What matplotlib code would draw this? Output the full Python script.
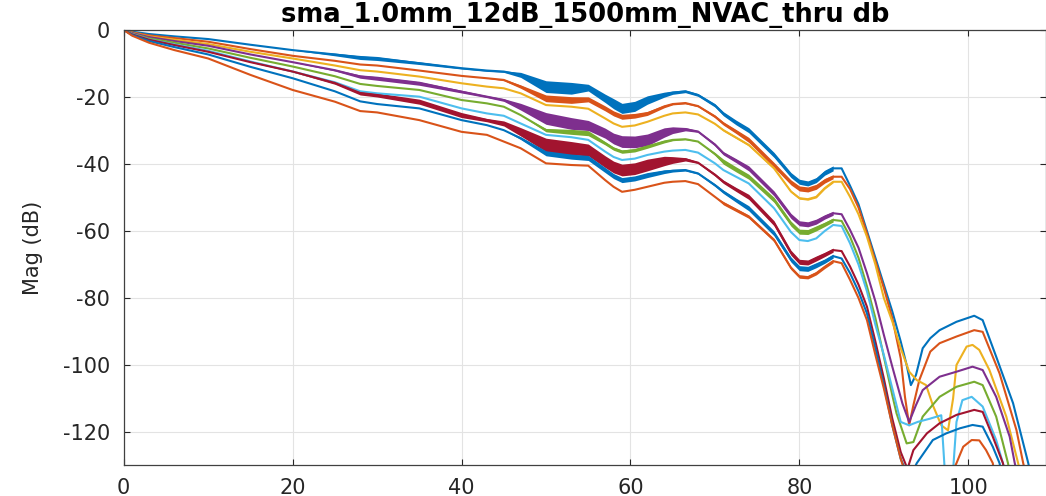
import numpy as np
import matplotlib
matplotlib.use("Agg")
import matplotlib.pyplot as plt

plt.rcParams.update({
    "font.family": "DejaVu Sans",
    "axes.unicode_minus": False,
})

# shared x nodes (GHz) up to the resonance peak near 84
x_common = [0, 1, 3, 6, 10, 15, 20, 25, 28, 30, 35, 40, 43, 45, 47, 50, 53, 55, 57, 58,
            59, 60.5, 62, 64, 65, 66.5, 68, 70, 71, 72.5, 74, 77, 79, 80, 81, 82, 83, 84]

blue1 = [0, -0.5, -1.2, -1.9, -2.7, -4.4, -6.0, -7.3, -8.2, -8.5, -9.9, -11.4, -12.1, -12.4,
         -13.4, -16.9, -17.4, -17.2, -20.4, -22.0, -23.4, -22.8, -20.9, -19.3, -18.7, -18.3,
         -19.4, -22.5, -25.0, -27.6, -29.9, -37.3, -43.3, -45.3, -45.8, -44.8, -42.6, -41.3]
orange1 = [0, -0.7, -1.6, -2.4, -3.5, -5.7, -7.7, -9.2, -10.3, -10.6, -12.1, -13.7, -14.4, -14.9,
           -16.9, -20.4, -20.9, -20.7, -23.4, -24.9, -25.9, -25.6, -24.9, -22.8, -22.1, -21.8,
           -22.7, -25.8, -27.9, -30.3, -32.8, -40.3, -45.5, -47.3, -47.6, -46.8, -45.0, -43.8]
yellow = [0, -0.8, -1.9, -2.9, -4.2, -6.5, -8.5, -10.6, -12.0, -12.4, -13.9, -15.9, -16.9, -17.4,
          -18.9, -22.4, -22.9, -23.5, -26.4, -27.9, -28.9, -28.5, -27.4, -25.6, -24.9, -24.6,
          -25.2, -28.0, -29.9, -32.1, -34.3, -41.3, -48.2, -50.2, -50.5, -49.8, -47.2, -45.3]
purple = [0, -0.9, -2.1, -3.3, -4.7, -7.3, -9.6, -12.0, -13.9, -14.4, -15.9, -18.4, -19.9, -20.9,
          -22.9, -26.4, -27.9, -28.5, -30.8, -32.4, -33.3, -33.4, -32.8, -30.6, -29.9, -29.6,
          -30.3, -34.2, -36.8, -39.0, -41.3, -48.8, -55.5, -57.7, -58.0, -57.2, -55.8, -54.7]
green = [0, -1.1, -2.5, -3.8, -5.5, -8.3, -10.9, -13.8, -16.1, -16.7, -17.9, -20.9, -21.9, -22.9,
         -25.4, -29.9, -30.4, -30.8, -33.8, -35.4, -36.3, -35.9, -34.8, -33.3, -32.8, -32.6,
         -33.3, -37.0, -39.3, -41.6, -43.8, -50.7, -57.8, -60.2, -60.3, -59.2, -58.0, -56.7]
cyan = [0, -1.2, -2.8, -4.3, -6.2, -9.4, -12.4, -15.6, -18.3, -18.9, -19.9, -23.4, -24.9, -25.6,
        -27.9, -31.3, -32.0, -32.8, -36.3, -37.9, -38.8, -38.4, -37.3, -36.3, -36.0, -35.8,
        -36.6, -39.8, -41.8, -43.8, -45.8, -53.2, -60.3, -62.7, -63.0, -62.2, -60.0, -58.2]
darkred = [0, -1.3, -2.9, -4.5, -6.5, -9.6, -12.4, -15.8, -18.8, -19.4, -21.4, -25.4, -26.9, -27.9,
           -30.4, -34.3, -35.3, -35.8, -39.3, -40.9, -41.8, -41.4, -40.3, -39.1, -38.8, -38.6,
           -39.6, -43.2, -45.3, -47.6, -49.8, -57.7, -66.5, -69.2, -69.4, -68.2, -67.0, -65.7]
blue2 = [0, -1.5, -3.3, -5.1, -7.3, -11.0, -14.4, -18.3, -21.3, -22.1, -23.4, -26.9, -28.4, -29.9,
         -32.3, -36.8, -37.8, -38.2, -41.8, -43.6, -44.8, -44.3, -43.3, -42.3, -42.0, -41.8,
         -42.8, -46.3, -48.3, -50.8, -53.2, -60.7, -68.5, -71.1, -71.3, -70.2, -69.0, -67.5]
orange2 = [0, -1.7, -3.8, -6.0, -8.5, -13.4, -17.9, -21.4, -24.2, -24.6, -26.9, -30.4, -31.3, -33.3,
           -35.3, -39.8, -40.3, -40.5, -44.8, -46.8, -48.3, -47.7, -46.8, -45.6, -45.3, -45.1,
           -46.0, -49.8, -51.7, -53.7, -55.7, -62.7, -71.0, -73.6, -73.8, -72.6, -70.7, -69.0]

# thickness (dB) of the fast ripple band around each trace, on x_common
blue1_band = [0, 0, 0, 0, 0, 0, 0, 0.8, 1.2, 1.2, 0.8, 0.5, 0.5, 0.5, 1.5, 3.5, 3.5, 2, 2.5,
              3, 3, 3, 2.5, 1.5, 1, 0.8, 0.8, 1, 1.2, 1.4, 1.5, 1.5, 1.5, 1.5, 1.5, 1.5, 1.5, 1.5]
orange1_band = [0, 0, 0, 0, 0, 0, 0, 0, 0, 0, 0, 0, 0, 0.5, 1, 2, 2, 1.5, 1.5,
                1.5, 1.5, 1.4, 1.2, 0.8, 0.5, 0.5, 0.5, 0.8, 1, 1.2, 1.5, 1.5, 1.5, 1.5, 1.5, 1.5,
                1.4, 1.2]
yellow_band = [0] * 27 + [0.3, 0.6, 0.6, 0.6, 0.6, 0.6, 0.6, 0.6, 0.6, 0.6, 0.6]
purple_band = [0, 0, 0, 0, 0, 0, 0, 0.5, 1, 1.2, 1.2, 0.8, 0.6, 0.8, 2, 3.5, 3.5, 3, 3,
               3.2, 3.5, 3.5, 3.5, 2.8, 2, 1, 0.5, 0.8, 1, 1.2, 1.5, 1.5, 1.5, 1.5, 1.5, 1.5, 1.3, 1.2]
green_band = [0] * 15 + [1, 1.5, 1.5, 1,
                         1, 1, 1, 1, 0.8, 0.5, 0.3, 0, 0.8, 1.5, 1.5, 1.5, 1.5, 1.5, 1.5, 1.5,
                         1.5, 1.3, 1.2]
cyan_band = [0] * 38
darkred_band = [0, 0, 0, 0, 0, 0, 0.3, 0.8, 1.2, 1.2, 1.5, 1.5, 1, 1.5, 2.5, 4, 4, 3.5, 3.5,
                3.5, 3.5, 3.5, 3.5, 2.8, 2, 1, 0.5, 0.8, 1, 1.2, 1.5, 1.5, 1.5, 1.5, 1.5, 1.5, 1.3,
                1.2]
blue2_band = [0] * 14 + [0.8, 1.5, 1.5, 1.5, 1.5,
                         1.5, 1.5, 1.5, 1.5, 1.1, 0.8, 0.6, 0.5, 0.8, 1, 1.2, 1.5, 1.5, 1.5, 1.5,
                         1.5, 1.5, 1.3, 1.2]
orange2_band = [0] * 28 + [1, 1, 1, 1, 1, 1, 1, 1, 1, 1]

# tails past the peak at 84 (each trace has its own x nodes)
blue1_tx = [85, 86, 87, 88, 89, 90, 91, 92, 92.7, 93.2, 93.8, 94.6, 95.5, 96.6, 98.6, 100.7,
            101.7, 103.3, 105.3, 107.1, 108]
blue1_ty = [-41.3, -46.5, -52, -60, -68, -76, -84, -93, -100, -106, -103, -95, -92, -89.6, -87.1,
            -85.3, -86.6, -97.5, -111.4, -129.3, -140]
orange1_tx = [85, 86, 87, 88, 89, 90, 91, 92, 92.5, 93, 93.5, 94.2, 95.5, 96.6, 98.6, 100.7,
              101.7, 103.7, 105.7, 106.5, 107.5]
orange1_ty = [-43.8, -47.5, -53, -60.7, -69, -77, -86, -98, -109.5, -118, -112, -104.5, -96,
              -93.5, -91.5, -89.6, -90.1, -102.5, -119.4, -129.3, -140]
yellow_tx = [85, 86, 87, 88, 89, 90, 91, 92, 93, 93.9, 95, 95.8, 96.8, 97.6, 98.2, 98.6, 99.8,
             100.5, 101.3, 102.5, 104.5, 105.9, 107]
yellow_ty = [-45.3, -49.8, -55, -61.7, -70, -80, -87, -95, -102, -104.5, -106, -112, -118,
             -119.5, -110, -100, -94.5, -94, -95.5, -101.5, -115.4, -129.3, -140]
purple_tx = [85, 86, 87, 88, 89, 90, 91, 92.2, 93, 93.8, 94.6, 96.6, 98.6, 100.5, 101.7, 103.3,
             104.9, 105.5, 106.5]
purple_ty = [-55, -59.7, -65, -72.6, -81, -91, -100.5, -111.5, -117, -112, -107.5, -103.5, -102,
             -100.5, -101.5, -109.5, -121.4, -129.3, -140]
green_tx = [85, 86, 87, 88, 89, 90, 91, 91.5, 92.7, 93.5, 94.6, 96.6, 98.6, 100.7, 101.7, 103.3,
            104.7, 105.5]
green_ty = [-57, -61.7, -68, -76.5, -86, -97.5, -109, -114.4, -123.4, -123, -115.4, -109.5,
            -106.5, -105, -106, -115.4, -129.3, -140]
cyan_tx = [85, 86, 87, 88, 89, 90, 91, 92, 93, 94, 95.5, 96.8, 97.3, 98.1, 98.6, 99.3, 100.4,
           101.7, 103.3, 104.1, 105]
cyan_ty = [-58.5, -63.7, -70, -78, -88, -97, -107, -117, -118, -117, -116, -115, -135, -135,
           -117, -110.5, -109.5, -112.4, -122.4, -129.3, -140]
darkred_tx = [85, 86, 87, 88, 89, 90, 91, 92, 92.8, 93.5, 95.1, 96.6, 98.6, 100.7, 101.7, 102.9,
              104.1, 105]
darkred_ty = [-66, -70.6, -76, -82.6, -93, -104, -116, -126, -131, -125.4, -120.4, -117.4,
              -114.9, -113.4, -114, -121.4, -129.3, -140]
blue2_tx = [85, 86, 87, 88, 89, 90, 91, 92, 93, 93.9, 95.8, 97.4, 99, 100.5, 101.7, 102.9, 103.7,
            104.5]
blue2_ty = [-68.2, -72.6, -78, -84.6, -95, -106, -118, -128, -134, -129.3, -122.4, -120.4,
            -118.9, -117.9, -118.4, -124.4, -129.3, -140]
orange2_tx = [85, 86, 87, 88, 89, 90, 91, 92, 93, 97, 98.6, 99.4, 100.4, 101.3, 102.1, 102.9,
              103.5]
orange2_ty = [-69.6, -74.6, -80, -86.6, -97, -107, -118, -128, -136, -138, -129.3, -124.4,
              -122.4, -122.5, -125.4, -129.3, -140]

# matlab default color order, wrapping after 7
colors = ["#0072BD", "#D95319", "#EDB120", "#7E2F8E", "#77AC30", "#4DBEEE", "#A2142F",
          "#0072BD", "#D95319"]

traces = [
    (blue1, blue1_band, blue1_tx, blue1_ty),
    (orange1, orange1_band, orange1_tx, orange1_ty),
    (yellow, yellow_band, yellow_tx, yellow_ty),
    (purple, purple_band, purple_tx, purple_ty),
    (green, green_band, green_tx, green_ty),
    (cyan, cyan_band, cyan_tx, cyan_ty),
    (darkred, darkred_band, darkred_tx, darkred_ty),
    (blue2, blue2_band, blue2_tx, blue2_ty),
    (orange2, orange2_band, orange2_tx, orange2_ty),
]

fig = plt.figure(figsize=(10.46, 4.96), dpi=100)
ax = fig.add_axes([0.1183, 0.0615, 0.8817, 0.878])

xc = np.array(x_common)
for (y, band, tx, ty), c in zip(traces, colors):
    y = np.array(y)
    b = np.array(band)
    ax.fill_between(xc, y - b / 2, y + b / 2, color=c, lw=0)
    ax.plot(np.concatenate([xc, tx]), np.concatenate([y, ty]), color=c, lw=1.5)

ax.set_xlim(0, 109.2)
ax.set_ylim(-130, 0)
ax.set_xticks([0, 20, 40, 60, 80, 100])
ax.set_yticks([-120, -100, -80, -60, -40, -20, 0])
ax.grid(True, color="#e3e3e3", lw=0.8)
ax.set_axisbelow(True)
ax.tick_params(direction="in", length=4, width=0.8, colors="#262626", labelsize=15,
               top=True, right=True)
ax.tick_params(axis="y", pad=10)
ax.tick_params(axis="x", pad=9)
for s in ax.spines.values():
    s.set_color("#404040")
    s.set_linewidth(0.9)

ax.set_ylabel("Mag (dB)", fontsize=15, color="#262626", labelpad=14)
ax.set_title("sma_1.0mm_12dB_1500mm_NVAC_thru db", fontsize=18.5, fontweight="bold", pad=6)

fig.savefig("out.png", dpi=100)
